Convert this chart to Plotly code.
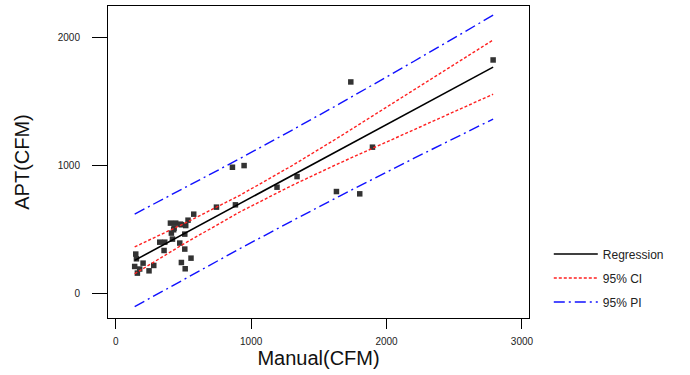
import plotly.graph_objects as go

# Observed data (Manual vs APT, CFM)
manual = [148, 153, 140, 202, 281, 177, 246, 160, 325, 362, 357, 419, 411, 431,
          404, 443, 485, 517, 534, 510, 473, 510, 485, 556, 513, 576, 744, 862,
          948, 884, 1191, 1339, 1630, 1802, 1896, 1736, 2787, 428, 478]
apt = [305, 268, 208, 234, 216, 188, 174, 156, 398, 398, 333, 422, 469, 508,
       547, 547, 534, 528, 570, 461, 391, 344, 239, 273, 190, 617, 672, 984,
       997, 690, 828, 911, 794, 776, 1141, 1651, 1823, 495, 539]

# Fitted regression, confidence and prediction bands
x_fit = [140, 500, 916, 1300, 1654, 2200, 2787]
reg = [256, 462, 699, 918, 1120, 1432, 1767]
ci_upper = [361, 541, 764, 995, 1223, 1585, 1979]
ci_lower = [151, 383, 634, 841, 1017, 1279, 1555]
pi_upper = [618, 817, 1051, 1273, 1481, 1811, 2173]
pi_lower = [-106, 107, 347, 563, 759, 1053, 1361]

x_ticks = [0, 1000, 2000, 3000]
y_ticks = [0, 1000, 2000]

FONT = "Liberation Sans, Arial, sans-serif"
RED_DASH = "3px,2px"
BLUE_DASH = "11px,4px,2px,4px"

fig = go.Figure()

fig.add_trace(go.Scatter(x=manual, y=apt, mode="markers", showlegend=False,
                         marker=dict(symbol="square", size=5.5, color="#333333")))

fig.add_trace(go.Scatter(x=x_fit, y=reg, mode="lines", name="Regression",
                         legendgroup="reg",
                         line=dict(color="black", width=1.6)))
fig.add_trace(go.Scatter(x=x_fit, y=ci_upper, mode="lines", name="95% CI",
                         legendgroup="ci",
                         line=dict(color="#ff2020", width=1.4, dash=RED_DASH)))
fig.add_trace(go.Scatter(x=x_fit, y=ci_lower, mode="lines", name="95% CI",
                         legendgroup="ci", showlegend=False,
                         line=dict(color="#ff2020", width=1.4, dash=RED_DASH)))
fig.add_trace(go.Scatter(x=x_fit, y=pi_upper, mode="lines", name="95% PI",
                         legendgroup="pi",
                         line=dict(color="#1010ff", width=1.4, dash=BLUE_DASH)))
fig.add_trace(go.Scatter(x=x_fit, y=pi_lower, mode="lines", name="95% PI",
                         legendgroup="pi", showlegend=False,
                         line=dict(color="#1010ff", width=1.4, dash=BLUE_DASH)))

fig.update_layout(
    width=690, height=375,
    margin=dict(l=108, r=161, t=6, b=57, autoexpand=False),
    paper_bgcolor="white", plot_bgcolor="white",
    font=dict(family=FONT, color="#222222"),
    legend=dict(x=1.047, y=0.128, xanchor="left", yanchor="middle",
                font=dict(size=12, color="#222222"), bgcolor="rgba(0,0,0,0)",
                itemwidth=44, tracegroupgap=5, traceorder="grouped"),
    xaxis=dict(range=[-57, 3052], tickvals=x_ticks, ticks="outside", ticklen=10,
               tickcolor="black", showline=True, linecolor="black", linewidth=1,
               mirror=True, showgrid=False, zeroline=False, automargin=False,
               tickfont=dict(size=10, color="#222222"), ticklabelstandoff=4,
               title=dict(text="Manual(CFM)", font=dict(size=20, color="#111111"),
                          standoff=4)),
    yaxis=dict(range=[-195, 2245], tickvals=y_ticks, ticks="outside", ticklen=15,
               tickcolor="black", showline=True, linecolor="black", linewidth=1,
               mirror=True, showgrid=False, zeroline=False, automargin=False,
               tickfont=dict(size=10, color="#222222"), ticklabelstandoff=10,
               title=dict(text="APT(CFM)", font=dict(size=20, color="#111111"),
                          standoff=22)),
)

fig.write_html("out.html", config={"displayModeBar": False},
               post_script="document.body.style.margin='0';document.body.style.padding='0';")
